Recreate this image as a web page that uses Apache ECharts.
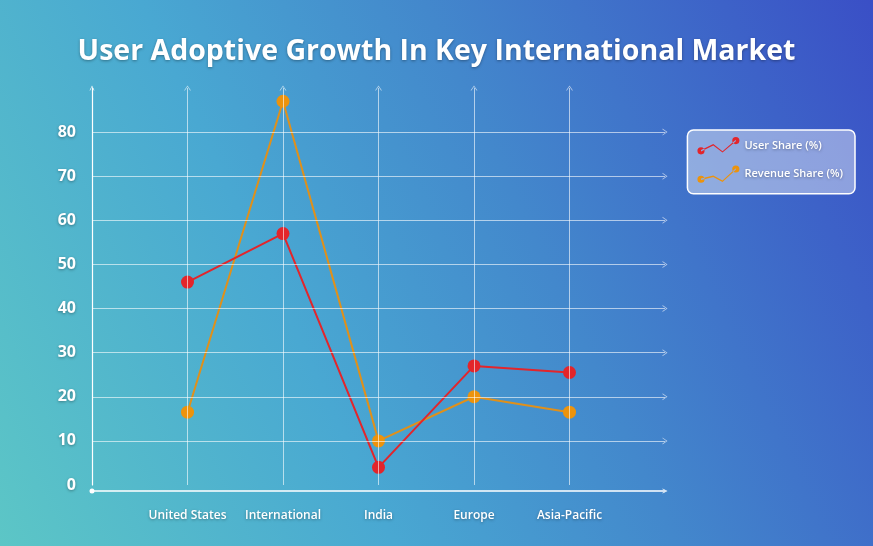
<!DOCTYPE html>
<html>
<head>
<meta charset="utf-8">
<script src="https://cdn.jsdelivr.net/npm/echarts@6/dist/echarts.min.js"></script>
<style>
  html, body { margin: 0; padding: 0; }
  #chart { width: 873px; height: 546px;
    background: linear-gradient(65deg, #5cc6c6 0%, #49a8d2 35%, #4388cc 60%, #3a4fc6 100%); }
</style>
</head>
<body>
<div id="chart"></div>
<script>
const title = 'User Adoptive Growth In Key International Market';
const categories = ['United States', 'International', 'India', 'Europe', 'Asia-Pacific'];
const userShare = [46, 57, 4, 27, 25.5];
const revenueShare = [16.5, 87, 10, 20, 16.5];
const yTicks = [10, 20, 30, 40, 50, 60, 70, 80];

const chevron = 'path://M0,10 L5,0 L10,10 L8.6,10 L5,2.6 L1.4,10 Z';
const font = 'Open Sans';
const shadow = { textShadowColor: 'rgba(0,0,0,0.35)', textShadowBlur: 3, textShadowOffsetY: 1 };
const gridColor = 'rgba(255,255,255,0.6)';

const toPoints = vals => vals.map((v, i) => [i + 1, v]);

const userIcon = 'path://M0.5,14 a3.5,3.5 0 1,0 7,0 a3.5,3.5 0 1,0 -7,0 M4,13.3 L16,7.3 L25,14.3 L38,3.3 L38,4.7 L25,15.7 L16,8.7 L4,14.7 Z M34.5,4 a3.5,3.5 0 1,0 7,0 a3.5,3.5 0 1,0 -7,0';
const revIcon = 'path://M0.5,14 a3.5,3.5 0 1,0 7,0 a3.5,3.5 0 1,0 -7,0 M4,13.3 L16,10.3 L25,15.3 L38,3.3 L38,4.7 L25,16.7 L16,11.7 L4,14.7 Z M34.5,4 a3.5,3.5 0 1,0 7,0 a3.5,3.5 0 1,0 -7,0';

const chart = echarts.init(document.getElementById('chart'));
chart.setOption({
  backgroundColor: 'transparent',
  title: {
    text: title, left: 'center', top: 32,
    textStyle: Object.assign({ color: '#fff', fontSize: 28.5, fontWeight: 'bold', fontFamily: font }, shadow)
  },
  legend: {
    data: [
      { name: 'User Share (%)', icon: userIcon },
      { name: 'Revenue Share (%)', icon: revIcon }
    ],
    orient: 'vertical', right: 18, top: 130,
    backgroundColor: 'rgba(255,255,255,0.42)', borderColor: '#fff', borderWidth: 1.5, borderRadius: 6,
    padding: [7, 12, 11, 10], itemGap: 11, itemWidth: 42, itemHeight: 18,
    textStyle: Object.assign({ color: '#fff', fontSize: 11, fontWeight: 600, fontFamily: font }, shadow)
  },
  grid: { left: 92, right: 208, top: 88, bottom: 61 },
  xAxis: {
    type: 'value', min: 0, max: 6, interval: 1, offset: 6,
    axisLine: { show: true, onZero: false, lineStyle: { color: '#fff', width: 1.5 },
      symbol: ['circle', chevron], symbolSize: [7, 5] },
    axisTick: { show: false }, splitLine: { show: false },
    axisLabel: Object.assign({ color: '#fff', fontSize: 12, fontWeight: 600, fontFamily: font, margin: 19,
      formatter: v => categories[v - 1] || '' }, shadow)
  },
  yAxis: {
    type: 'value', min: 0, max: 90, interval: 10,
    axisLine: { show: true, lineStyle: { color: '#fff', width: 1.2 },
      symbol: ['none', chevron], symbolSize: [7, 5] },
    axisTick: { show: false }, splitLine: { show: false },
    axisLabel: Object.assign({ color: '#fff', fontSize: 16, fontWeight: 'bold', fontFamily: font, margin: 16,
      formatter: v => (v <= 80 ? String(v) : '') }, shadow)
  },
  series: [
    {
      name: 'grid', type: 'line', data: [], silent: true, z: 1,
      markLine: {
        silent: true, symbol: ['none', chevron], symbolSize: [7, 5],
        label: { show: false },
        lineStyle: { color: gridColor, width: 1, type: 'solid' },
        data: yTicks.map(v => ({ yAxis: v })).concat(categories.map((c, i) => ({ xAxis: i + 1 })))
      }
    },
    {
      name: 'User Share (%)', type: 'line', data: toPoints(userShare), z: 3,
      symbol: 'circle', symbolSize: 13, color: '#e3252b',
      lineStyle: { width: 2, color: '#e3252b' }, itemStyle: { color: '#e3252b' }
    },
    {
      name: 'Revenue Share (%)', type: 'line', data: toPoints(revenueShare), z: 2,
      symbol: 'circle', symbolSize: 13, color: '#ec930c',
      lineStyle: { width: 2, color: '#e0901a' }, itemStyle: { color: '#ec930c' }
    }
  ]
});
</script>
</body>
</html>
